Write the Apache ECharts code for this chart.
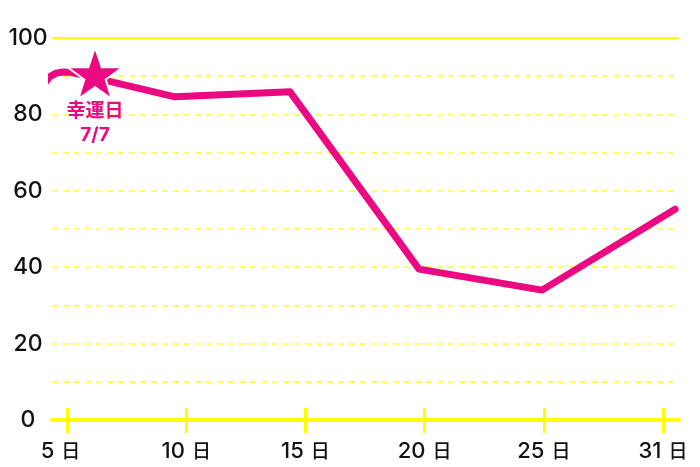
<!DOCTYPE html>
<html>
<head>
<meta charset="utf-8">
<script src="https://cdn.jsdelivr.net/npm/echarts@6/dist/echarts.min.js"></script>
<style>html,body{margin:0;padding:0;background:#fff;}#c{width:700px;height:467px;}</style>
</head>
<body>
<div id="c"></div>
<script>
// tick labels (days) placed at equal steps 0..5 on the x axis
const dayTicks = [5, 10, 15, 20, 25, 31];
const tickPositions = [0, 1, 2, 3, 4, 5];
// line points: x in tick-step units, y = value
const pointX = [-0.185, -0.143, -0.092, -0.034, 0.025, 0.092, 0.906, 1.871, 2.953, 3.985, 5.101];
const pointY = [88.2, 89.9, 90.8, 91.1, 91.0, 90.6, 84.6, 85.9, 39.5, 34.0, 55.2];
// lucky-day star
const starX = [0.235];
const starY = [90.8];
const starLabel = '幸運日\n7/7';
const yLabelValues = [0, 20, 40, 60, 80, 100];

const PINK = '#ec0880';
const YELLOW = '#ffff00';
const FONT = "Inter, 'Noto Sans CJK JP', sans-serif";
const CJK = "'Noto Sans CJK JP', sans-serif";
const starPath = 'path://M50,0 L61.8,35.1 L98.1,35.1 L68.8,56.7 L79.4,91 L50,70 L20.6,91 L31.2,56.7 L1.9,35.1 L38.2,35.1 Z';

const chart = echarts.init(document.getElementById('c'));
const xMin = -0.126, xMax = 5.134;
chart.setOption({
  animation: false,
  grid: { left: 52, right: 21, top: 38, bottom: 47 },
  xAxis: [
    {
      type: 'value', position: 'bottom', min: xMin, max: xMax,
      axisLine: { show: true, onZero: false, lineStyle: { color: YELLOW, width: 4 } },
      axisTick: { show: true, customValues: tickPositions, length: 13, lineStyle: { color: YELLOW, width: 3 } },
      axisLabel: {
        customValues: tickPositions, margin: 20,
        color: '#111',
        formatter: function (v) {
          const i = tickPositions.indexOf(Math.round(v));
          const d = dayTicks[i];
          return '{n|' + d + '}{g| }{r|日}' + (d < 10 ? '{s| }' : '');
        },
        rich: {
          n: { fontSize: 22, fontWeight: 500, fontFamily: FONT, color: '#111' },
          g: { width: 7, fontSize: 10 },
          r: { fontSize: 19, fontWeight: 500, fontFamily: CJK, color: '#111' },
          s: { width: 13, fontSize: 10 }
        }
      },
      splitLine: { show: false }
    },
    {
      type: 'value', position: 'bottom', min: xMin, max: xMax,
      axisLine: { show: false, onZero: false },
      axisTick: { show: true, inside: true, customValues: tickPositions, length: 12, lineStyle: { color: YELLOW, width: 3 } },
      axisLabel: { show: false },
      splitLine: { show: false }
    }
  ],
  yAxis: {
    type: 'value', min: 0, max: 100, interval: 10,
    axisLine: { show: false, onZero: false },
    axisTick: { show: false },
    axisLabel: {
      customValues: yLabelValues, align: 'center', margin: 24,
      color: '#111', fontSize: 23, fontWeight: 500, fontFamily: FONT,
      padding: [0, 0, 4, 0]
    },
    splitLine: { show: true, lineStyle: { color: '#ffff66', width: 2, type: [6, 5] } }
  },
  series: [
    {
      type: 'line',
      data: pointX.map((x, i) => [x, pointY[i]]),
      showSymbol: false,
      clip: false,
      lineStyle: { color: PINK, width: 7, cap: 'round', join: 'round' },
      markLine: {
        silent: true, symbol: 'none', label: { show: false },
        lineStyle: { color: YELLOW, width: 2, type: 'solid' },
        data: [{ yAxis: 100 }],
        z: 1
      },
      z: 3
    },
    {
      type: 'scatter',
      data: starX.map((x, i) => [x, starY[i]]),
      symbol: starPath,
      symbolSize: [55, 52],
      itemStyle: { color: PINK, opacity: 1, borderColor: '#fff', borderWidth: 2 },
      label: {
        show: true, position: 'bottom', distance: -1,
        formatter: starLabel,
        color: PINK, fontSize: 19, fontWeight: 'bold', lineHeight: 24,
        fontFamily: FONT, align: 'center'
      },
      z: 5
    }
  ]
});
</script>
</body>
</html>
